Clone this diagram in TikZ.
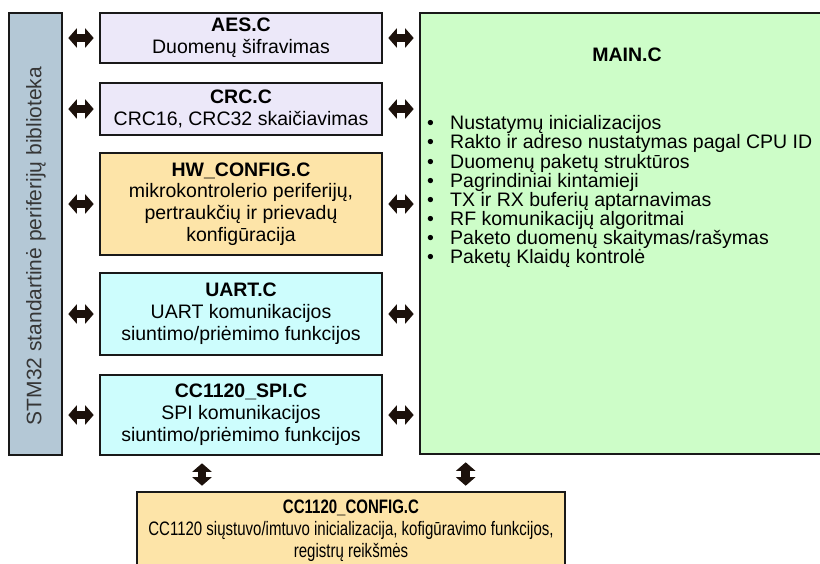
\documentclass[tikz,border=0pt]{standalone}
\usepackage{fontspec}
\setmainfont{Liberation Sans}
\newfontfamily\narrowsans[FakeStretch=0.77]{Liberation Sans}
\usetikzlibrary{arrows.meta}

\definecolor{barfill}{HTML}{B4C8D6}
\definecolor{lavender}{HTML}{ECE8F9}
\definecolor{peach}{HTML}{FDE4A8}
\definecolor{aqua}{HTML}{CDFDFD}
\definecolor{mint}{HTML}{CDFDC8}
\definecolor{tipcol}{HTML}{1C110B}
\definecolor{bartext}{HTML}{363636}

\tikzset{
  modbox/.style={draw=black!90, line width=2.6pt, inner sep=0pt, align=center,
    font=\fontsize{19.5}{21.8}\selectfont},
  dblarrow/.style={draw=tipcol, line width=8.5pt,
    {Triangle[width=19pt,length=8.5pt]}-{Triangle[width=19pt,length=8.5pt]}},
}

\begin{document}
\begin{tikzpicture}[x=1pt, y=-1pt]
  \clip (0,0) rectangle (820,563);
  \fill[white] (0,0) rectangle (820,563);

  % peripheral library bar
  \node[modbox, fill=barfill, minimum width=53pt, minimum height=442pt] (bar) at (35.5,234) {};
  \node[rotate=90, text=bartext, font=\fontsize{21}{22}\selectfont, inner sep=0pt] (bartxt) at (36,246)
    {STM32 standartinė periferijų biblioteka};

  % source modules
  \node[modbox, fill=lavender, minimum width=282pt, minimum height=50pt] (aes) at (241,38)
    {\textbf{AES.C}\\Duomenų šifravimas};
  \node[modbox, fill=lavender, minimum width=282pt, minimum height=52pt] (crc) at (241,109)
    {\textbf{CRC.C}\\CRC16, CRC32 skaičiavimas};
  \node[modbox, fill=peach, minimum width=282pt, minimum height=102pt] (hw) at (241,204)
    {\textbf{HW\_CONFIG.C}\\mikrokontrolerio periferijų,\\pertraukčių ir prievadų\\konfigūracija};
  \node[modbox, fill=aqua, minimum width=282pt, minimum height=82pt] (uart) at (241,314)
    {\textbf{UART.C}\\UART komunikacijos\\siuntimo/priėmimo funkcijos};
  \node[modbox, fill=aqua, minimum width=282pt, minimum height=80pt] (spi) at (241,415)
    {\textbf{CC1120\_SPI.C}\\SPI komunikacijos\\siuntimo/priėmimo funkcijos};

  % main module
  \node[modbox, fill=mint, minimum width=420pt, minimum height=441pt] (main) at (630,233.5) {};
  \node[font=\fontsize{19.5}{21.8}\selectfont\bfseries, inner sep=0pt] (maintitle) at (627,55) {MAIN.C};
  \node[anchor=north west, align=left, inner sep=0pt,
        font=\fontsize{19.5}{19.1}\selectfont] (mainlist) at (427,115.5) {%
    \makebox[23pt][l]{\textbullet}Nustatymų inicializacijos\\
    \makebox[23pt][l]{\textbullet}Rakto ir adreso nustatymas pagal CPU ID\\
    \makebox[23pt][l]{\textbullet}Duomenų paketų struktūros\\
    \makebox[23pt][l]{\textbullet}Pagrindiniai kintamieji\\
    \makebox[23pt][l]{\textbullet}TX ir RX buferių aptarnavimas\\
    \makebox[23pt][l]{\textbullet}RF komunikacijų algoritmai\\
    \makebox[23pt][l]{\textbullet}Paketo duomenų skaitymas/rašymas\\
    \makebox[23pt][l]{\textbullet}Paketų Klaidų kontrolė};

  % radio configuration module
  \node[modbox, fill=peach, minimum width=428pt, minimum height=84pt] (cfg) at (351,534) {};
  \node[align=center, inner sep=0pt, font=\fontsize{19.5}{22}\selectfont\narrowsans] (cfgtxt) at (351,530.5)
    {\textbf{CC1120\_CONFIG.C}\\CC1120 siųstuvo/imtuvo inicializacija, kofigūravimo funkcijos,\\registrų reikšmės};

  % links to the peripheral library
  \foreach \m in {aes,crc,hw,uart,spi}{
    \draw[dblarrow, shorten <=5pt, shorten >=5pt] (bar.east |- \m.west) -- (\m.west);
  }
  % links to main
  \foreach \m in {aes,crc,hw,uart,spi}{
    \draw[dblarrow, shorten <=5pt, shorten >=5pt] (\m.east) -- (\m.east -| main.west);
  }
  % links to the radio configuration
  \draw[dblarrow, shorten <=7pt, shorten >=5pt] ([xshift=-39pt]spi.south) -- ([xshift=-39pt]spi.south |- cfg.north);
  \draw[dblarrow, shorten <=7pt, shorten >=5pt] ([xshift=47pt]main.south west) -- ([xshift=47pt]main.south west |- cfg.north);
\end{tikzpicture}
\end{document}
